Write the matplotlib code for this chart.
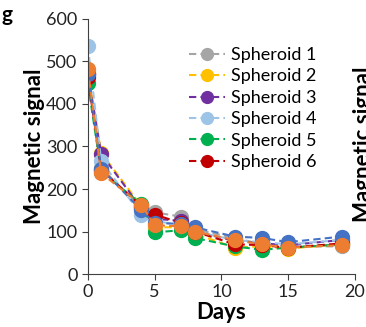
import matplotlib
matplotlib.use("Agg")
from matplotlib import pyplot as plt

days = [0, 1, 4, 5, 7, 8, 11, 13, 15, 19]

spheroid1 = [470, 250, 155, 145, 135, 105, 85, 70, 65, 65]
spheroid2 = [475, 285, 160, 110, 110, 95, 62, 65, 60, 70]
spheroid3 = [470, 282, 155, 130, 125, 100, 78, 72, 68, 80]
spheroid4 = [537, 265, 140, 125, 115, 100, 80, 75, 70, 80]
spheroid5 = [449, 240, 165, 98, 103, 85, 65, 57, 62, 70]
spheroid6 = [463, 245, 160, 140, 120, 100, 70, 68, 62, 72]
spheroid7 = [470, 248, 150, 120, 118, 110, 88, 85, 75, 88]
spheroid8 = [482, 237, 163, 115, 112, 100, 80, 70, 62, 68]

series = [spheroid1, spheroid2, spheroid3, spheroid4,
          spheroid5, spheroid6, spheroid7, spheroid8]
labels = ["Spheroid 1", "Spheroid 2", "Spheroid 3", "Spheroid 4",
          "Spheroid 5", "Spheroid 6", None, None]
colors = ["#A5A5A5", "#FFC000", "#7030A0", "#9DC3E6",
          "#00B050", "#C00000", "#4472C4", "#ED7D31"]

plt.rcParams["font.family"] = ["Lato", "DejaVu Sans"]

fig = plt.figure(figsize=(3.66, 3.27), dpi=100)
ax = fig.add_axes([0.240, 0.162, 0.730, 0.780])

for y, lab, c in zip(series, labels, colors):
    ax.plot(days, y, "--o", color=c, label=lab, markersize=10,
            linewidth=1.5, dashes=(3.5, 2))

ax.set_xlim(0, 20)
ax.set_ylim(0, 600)
ax.set_xticks([0, 5, 10, 15, 20])
ax.set_yticks(range(0, 601, 100))
for s in ["top", "right"]:
    ax.spines[s].set_visible(False)
for s in ["left", "bottom"]:
    ax.spines[s].set_color("#404040")
ax.tick_params(labelsize=13, length=4, color="#404040", labelcolor="#222222")
ax.set_xlabel("Days", fontsize=16, fontweight="bold", labelpad=1)
ax.set_ylabel("Magnetic signal", fontsize=16, fontweight="bold", labelpad=1)

handles, labs = ax.get_legend_handles_labels()
ax.legend(handles, labs, loc="upper left", bbox_to_anchor=(0.38, 0.89),
          frameon=False, fontsize=13, handlelength=2.0, handletextpad=0.3,
          labelspacing=0.3, markerscale=0.85, borderaxespad=0,
          borderpad=0)

fig.text(0.003, 0.985, "g", fontsize=15, fontweight="bold", va="top")
fig.text(0.965, 0.56, "Magnetic signal", fontsize=16, fontweight="bold",
         rotation=90, va="center", ha="left")

plt.savefig("out.png", dpi=100)
plt.close()
